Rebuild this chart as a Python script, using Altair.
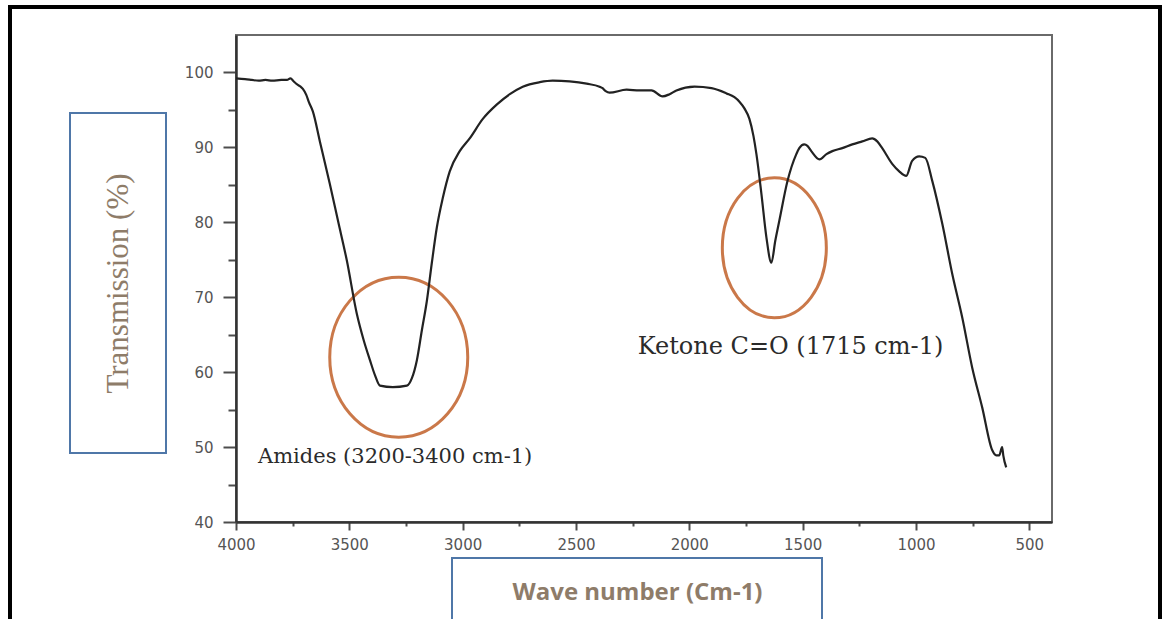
import altair as alt
import pandas as pd

# FTIR transmission spectrum (wavenumber in cm-1, transmission in %)
wavenumber = [
    4000, 3960, 3930, 3900, 3870, 3840, 3800, 3775, 3760, 3745, 3730, 3715,
    3705, 3690, 3678, 3661, 3630, 3586, 3550, 3511, 3467, 3436, 3409, 3387,
    3365, 3308, 3246, 3224, 3202, 3180, 3158, 3136, 3114, 3088, 3057, 3013,
    2969, 2911, 2850, 2792, 2735, 2660, 2603, 2528, 2453, 2396, 2383, 2369,
    2352, 2277, 2220, 2167, 2118, 2087, 2057, 1977, 1902, 1836, 1801, 1779,
    1757, 1735, 1717, 1704, 1682, 1660, 1638, 1621, 1603, 1567, 1528, 1515,
    1493, 1479, 1462, 1426, 1395, 1369, 1325, 1281, 1237, 1193, 1171, 1149,
    1105, 1074, 1043, 1017, 986, 959, 928, 884, 840, 796, 752, 708,
    664, 646, 633, 620, 615, 602,
]
transmission = [
    99.2, 99.1, 99.0, 98.9, 99.0, 98.9, 99.0, 99.0, 99.2, 98.8, 98.4, 98.1,
    97.8, 97.0, 96.0, 94.8, 90.8, 85.1, 80.2, 74.9, 67.8, 64.2, 61.6, 59.6,
    58.2, 58.0, 58.2, 59.2, 61.6, 65.6, 69.5, 74.6, 79.3, 83.2, 86.8, 89.5,
    91.2, 93.8, 95.7, 97.1, 98.1, 98.7, 98.9, 98.8, 98.5, 98.1, 97.9, 97.5,
    97.3, 97.7, 97.6, 97.6, 96.8, 97.1, 97.6, 98.1, 97.9, 97.2, 96.7, 96.1,
    95.2, 93.8, 91.5, 89.1, 83.8, 78.0, 74.6, 77.5, 80.2, 85.5, 89.1, 89.9,
    90.4, 90.2, 89.5, 88.4, 89.1, 89.5, 89.9, 90.4, 90.8, 91.2, 90.8, 89.9,
    87.8, 86.8, 86.2, 88.2, 88.8, 88.6, 85.5, 79.8, 73.1, 67.3, 60.6, 55.3,
    49.6, 48.9, 48.9, 50.0, 48.9, 47.3,
]

# tick positions: labelled every 500 / 10, small ticks in between
x_ticks = list(range(500, 4001, 250))
y_ticks = list(range(40, 101, 5))

# band annotations: label text and anchor, ellipse centre
band_labels = ["Amides (3200-3400 cm-1)", "Ketone C=O (1715 cm-1)"]
band_label_wn = [3903, 2228]
band_label_t = [48.7, 63.3]
band_label_size = [21, 24]
band_centre_wn = [3282, 1625]
band_centre_t = [62.0, 76.6]

spectrum = pd.DataFrame({"wn": wavenumber, "t": transmission})

W, H = 816, 487
INK = "#222222"
TICK_GREY = "#4d4d4d"
TITLE_COL = "#8e7c69"
BOX_BLUE = "#4f77a8"
RING = "#c56a36"

x_scale = alt.Scale(domain=[400, 4000], reverse=True, nice=False, zero=False)
y_scale = alt.Scale(domain=[40, 105], nice=False, zero=False)

x_axis = alt.Axis(
    values=x_ticks,
    format="d",
    labelExpr="datum.value % 500 == 0 ? datum.label : ''",
    tickSize={"condition": {"test": "datum.value % 500 == 0", "value": 8}, "value": 4},
    tickWidth=2,
    tickColor=TICK_GREY,
    domainColor="#333333",
    domainWidth=2.5,
    grid=False,
    labelFont="DejaVu Sans",
    labelFontSize=15,
    labelColor="#555555",
    labelPadding=7,
    labelFlush=False,
    title="Wave number (Cm-1)",
    titleFont="Open Sans",
    titleFontWeight="bold",
    titleFontSize=24,
    titleColor=TITLE_COL,
    titleX=401,
    titleY=70,
    titleAlign="center",
    titleBaseline="middle",
)

y_axis = alt.Axis(
    values=y_ticks,
    format="d",
    labelExpr="datum.value % 10 == 0 ? datum.label : ''",
    tickSize={"condition": {"test": "datum.value % 10 == 0", "value": 13}, "value": 8},
    tickWidth=2,
    tickColor=TICK_GREY,
    domainColor="#333333",
    domainWidth=2.5,
    grid=False,
    labelFont="DejaVu Sans",
    labelFontSize=15,
    labelColor="#555555",
    labelPadding=10,
    labelFlush=False,
    title="Transmission (%)",
    titleFont="Liberation Serif",
    titleFontWeight="normal",
    titleFontSize=31,
    titleColor=TITLE_COL,
    titleAngle=270,
    titleX=-118,
    titleY=248,
    titleAlign="center",
    titleBaseline="middle",
)

line = alt.Chart(spectrum).mark_line(color=INK, strokeWidth=2.2, interpolate="monotone").encode(
    x=alt.X("wn:Q", scale=x_scale, axis=x_axis),
    y=alt.Y("t:Q", scale=y_scale, axis=y_axis),
)


def ring(i, rx, ry):
    # ellipse drawn as a custom symbol path around a band
    k = ry / rx
    path = f"M -1 0 A 1 {k:.3f} 0 1 0 1 0 A 1 {k:.3f} 0 1 0 -1 0 Z"
    df = pd.DataFrame({"wn": [band_centre_wn[i]], "t": [band_centre_t[i]]})
    return alt.Chart(df).mark_point(
        shape=path, filled=False, stroke=RING, strokeWidth=3, opacity=0.9
    ).encode(
        x=alt.X("wn:Q", scale=x_scale),
        y=alt.Y("t:Q", scale=y_scale),
        size=alt.value((2 * rx) ** 2),
    )


def band_text(i):
    df = pd.DataFrame({"text": [band_labels[i]], "wn": [band_label_wn[i]], "t": [band_label_t[i]]})
    return alt.Chart(df).mark_text(
        align="left", baseline="middle", font="DejaVu Serif",
        fontSize=band_label_size[i], color="#2b2b2b",
    ).encode(
        x=alt.X("wn:Q", scale=x_scale),
        y=alt.Y("t:Q", scale=y_scale),
        text="text:N",
    )


one = pd.DataFrame({"k": [0]})


def frame(x1, x2, y1, y2, color, width):
    return alt.Chart(one).mark_rect(
        filled=False, stroke=color, strokeWidth=width, fill=None
    ).encode(
        x=alt.value(x1), x2=alt.value(x2), y=alt.value(y1), y2=alt.value(y2)
    )


# boxes around the axis titles and the outer border of the figure
y_title_box = frame(-166, -70, 78, 418, BOX_BLUE, 2)
x_title_box = frame(216, 586, 523, 640, BOX_BLUE, 2)
outer_box = frame(-226, 924, -28, 640, "#000000", 4)

chart = alt.layer(
    outer_box, y_title_box, x_title_box,
    ring(0, 69, 80), ring(1, 52, 70),
    line, band_text(0), band_text(1),
).properties(
    width=W,
    height=H,
    padding={"left": 236, "top": 35, "right": 113, "bottom": 97},
    autosize=alt.AutoSizeParams(type="none"),
    background="white",
).configure_view(
    stroke="#6a6a6a", strokeWidth=2
)

chart.save("out.html", embed_options={"renderer": "svg", "actions": False})
